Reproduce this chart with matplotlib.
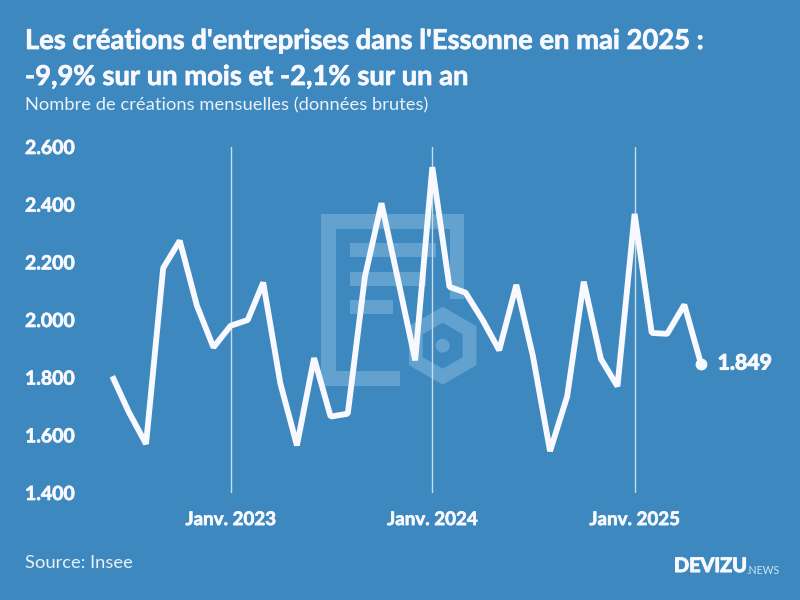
import numpy as np
import pandas as pd
import matplotlib
import matplotlib.pyplot as plt
import matplotlib.dates as mdates
import matplotlib.patheffects as pe
from matplotlib.patches import Rectangle, Circle, PathPatch
from matplotlib.path import Path

matplotlib.use('agg')

plt.rcParams['font.family'] = ['Lato', 'DejaVu Sans']

months = pd.date_range('2022-06-01', '2025-05-01', freq='MS')
creations = [1805, 1680, 1570, 2180, 2275, 2050, 1905,
             1980, 2000, 2130, 1780, 1565, 1868, 1665, 1675, 2150, 2405, 2130, 1860,
             2530, 2115, 2095, 2000, 1895, 2122, 1875, 1545, 1735, 2133, 1865, 1770,
             2368, 1955, 1952, 2053, 1849]
y_ticks = [1400, 1600, 1800, 2000, 2200, 2400, 2600]
y_labels = ['1.400', '1.600', '1.800', '2.000', '2.200', '2.400', '2.600']
x_ticks = pd.to_datetime(['2023-01-01', '2024-01-01', '2025-01-01'])
x_labels = ['Janv. 2023', 'Janv. 2024', 'Janv. 2025']

bg = '#3d88bf'
fg = '#f8f8ff'
W, H = 800, 600


def heavy(w):
    # only bold is available, thicken it a bit
    return [pe.withStroke(linewidth=w, foreground=fg)]


fig = plt.figure(figsize=(8, 6), dpi=100, facecolor=bg)

# watermark, in pixel coordinates
wm = fig.add_axes([0, 0, 1, 1], zorder=0)
wm.set_xlim(0, W)
wm.set_ylim(H, 0)
wm.axis('off')
wm_col = '#63a1cf'
for x, y, w, h in [(321, 214, 143, 14.5), (321, 214, 14.5, 171), (321, 371, 79, 14.5),
                   (450, 214, 14, 85), (350, 243, 86, 14), (350, 272, 76, 14),
                   (350, 300, 43, 14)]:
    wm.add_patch(Rectangle((x, y), w, h, fc=wm_col, ec='none'))


def hexagon(r):
    ang = np.radians(np.arange(90, 450, 60))
    return np.column_stack([442.7 + r * np.cos(ang), 345.7 + r * np.sin(ang)])


outer, inner = hexagon(39), hexagon(23)[::-1]
verts = np.vstack([outer, outer[:1], inner, inner[:1]])
codes = ([Path.MOVETO] + [Path.LINETO] * 5 + [Path.CLOSEPOLY]) * 2
wm.add_patch(PathPatch(Path(verts, codes), fc=wm_col, ec='none'))
wm.add_patch(Circle((442.7, 345.7), 7, fc=wm_col, ec='none'))

# chart area: y 147..493 px, x 90..760 px
ax = fig.add_axes([90 / W, 1 - 493 / H, 670 / W, 346 / H], zorder=1)
ax.patch.set_alpha(0)
px_per_day = (635 - 231) / (x_ticks[2] - x_ticks[0]).days
x0 = mdates.date2num(x_ticks[0])
ax.set_xlim(x0 - (230.6 - 90) / px_per_day, x0 + (760 - 230.6) / px_per_day)
ax.xaxis_date()
ax.set_ylim(1400, 2600)

for s in ax.spines.values():
    s.set_visible(False)

for d in x_ticks:
    ax.axvline(d, color='#c5dcec', lw=1.0, zorder=1)

ax.plot(months, creations, color=fg, lw=4.2, solid_joinstyle='bevel', solid_capstyle='butt',
        zorder=3, clip_on=False)
ax.plot(months[-1], creations[-1], 'o', color=fg, ms=7.5, zorder=4, clip_on=False)
ax.annotate('1.849', (months[-1], creations[-1]), xytext=(12, 0), textcoords='offset points',
            color=fg, fontsize=15.3, fontweight='bold', va='center', ha='left',
            path_effects=heavy(0.8))

ax.set_yticks(y_ticks)
ax.set_yticklabels(y_labels)
ax.set_xticks(x_ticks)
ax.set_xticklabels(x_labels)
ax.tick_params(axis='y', length=0, pad=(90 - 25) * 0.72, labelsize=14, labelcolor=fg)
ax.tick_params(axis='x', length=0, pad=13, labelsize=13.5, labelcolor=fg)
for lab in ax.get_yticklabels():
    lab.set_ha('left')
    lab.set_va('center_baseline')
    lab.set_fontweight('bold')
    lab.set_path_effects(heavy(0.5))
for lab in ax.get_xticklabels():
    lab.set_fontweight('bold')
    lab.set_path_effects(heavy(0.5))

fig.text(25 / W, 1 - 41 / H, "Les créations d'entreprises dans l'Essonne en mai 2025 :",
         color=fg, fontsize=19.7, fontweight='bold', va='center', path_effects=heavy(0.5))
fig.text(25 / W, 1 - 77 / H, '-9,9% sur un mois et -2,1% sur un an',
         color=fg, fontsize=19.7, fontweight='bold', va='center', path_effects=heavy(0.5))
fig.text(25 / W, 1 - 105 / H, 'Nombre de créations mensuelles (données brutes)',
         color='#e8f1f8', fontsize=13.25, va='center')
fig.text(25 / W, 1 - 563 / H, 'Source: Insee', color='#e8f1f8', fontsize=13.2, va='center')

fig.text(674 / W, 1 - 566 / H, 'DEVIZU', color=fg, fontsize=14.3, fontweight='bold', va='center',
         path_effects=heavy(0.8))
fig.text(746 / W, 1 - 570 / H, '.NEWS', color='#d5e5f1', fontsize=7.6, va='center')

plt.savefig('out.png', dpi=100, facecolor=bg)
